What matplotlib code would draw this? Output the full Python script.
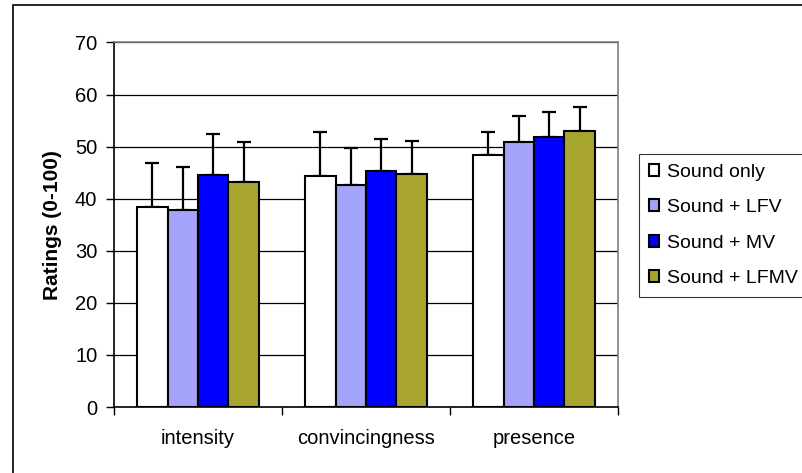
import matplotlib
matplotlib.use("Agg")
import matplotlib.pyplot as plt
import matplotlib.patches as mpatches
import numpy as np

plt.rcParams["font.family"] = ["Liberation Sans", "DejaVu Sans"]

categories = ["intensity", "convincingness", "presence"]
conditions = ["Sound only", "Sound + LFV", "Sound + MV", "Sound + LFMV"]

# mean ratings per condition, one value per category
sound_only = [38.5, 44.3, 48.3]
sound_lfv = [37.9, 42.6, 50.9]
sound_mv = [44.6, 45.3, 51.8]
sound_lfmv = [43.3, 44.7, 53.0]

# upper error (SD) per condition
err_sound_only = [8.3, 8.6, 4.6]
err_sound_lfv = [8.2, 7.1, 5.0]
err_sound_mv = [7.9, 6.2, 4.8]
err_sound_lfmv = [7.5, 6.4, 4.7]

y_ticks = [0, 10, 20, 30, 40, 50, 60, 70]

means = [sound_only, sound_lfv, sound_mv, sound_lfmv]
errors = [err_sound_only, err_sound_lfv, err_sound_mv, err_sound_lfmv]
colors = ["#ffffff", "#a4a4fa", "#0000ff", "#a8a430"]

fig = plt.figure(figsize=(8.03, 4.73), dpi=100)
ax = fig.add_axes([114 / 803, 1 - 407 / 473, 504 / 803, 364.5 / 473])

centers = np.arange(len(categories)) + 0.5
width = 0.181
for i, (vals, errs, color, label) in enumerate(zip(means, errors, colors, conditions)):
    x = centers + (i - 1.5) * width
    ax.bar(x, vals, width, color=color, edgecolor="black", linewidth=1.5,
           label=label, zorder=3)
    ax.errorbar(x, vals, yerr=[np.zeros(len(errs)), errs], fmt="none",
                ecolor="black", elinewidth=1.6, capsize=5, capthick=1.6, zorder=2)

ax.set_xlim(0, len(categories))
ax.set_ylim(0, 70)
ax.set_yticks(y_ticks)
ax.set_xticks(np.arange(len(categories) + 1))
ax.set_xticklabels([])
ax.set_xticks(centers, minor=True)
ax.set_xticklabels(categories, minor=True, fontsize=14.5)
ax.tick_params(axis="x", which="minor", length=0, pad=16)
ax.tick_params(axis="x", which="major", length=6, width=1, direction="out")
ax.tick_params(axis="y", length=6, width=1, direction="out", pad=6, labelsize=14.5)

ax.yaxis.grid(True, color="black", linewidth=0.9, zorder=0)
ax.set_axisbelow(True)
ax.spines["left"].set_color("black")
ax.spines["bottom"].set_color("black")
ax.spines["top"].set_color("#808080")
ax.spines["right"].set_color("#808080")
for s in ax.spines.values():
    s.set_linewidth(1.2)

ax.set_ylabel("Ratings (0-100)", fontsize=15, fontweight="bold", labelpad=9)

leg = fig.legend(loc="upper left", bbox_to_anchor=(639 / 803, 1 - 154 / 473),
                 fontsize=14, frameon=True, fancybox=False, edgecolor="black",
                 handlelength=0.55, handleheight=0.55, handletextpad=0.4,
                 labelspacing=0.95, borderpad=0.5, borderaxespad=0)
leg.get_frame().set_linewidth(0.8)

fig.patches.append(mpatches.Rectangle((13 / 803, -0.1), 2, 1.1 - 5 / 473,
                                      transform=fig.transFigure, fill=False,
                                      edgecolor="black", linewidth=1.2))

fig.savefig("out.png", dpi=100)
